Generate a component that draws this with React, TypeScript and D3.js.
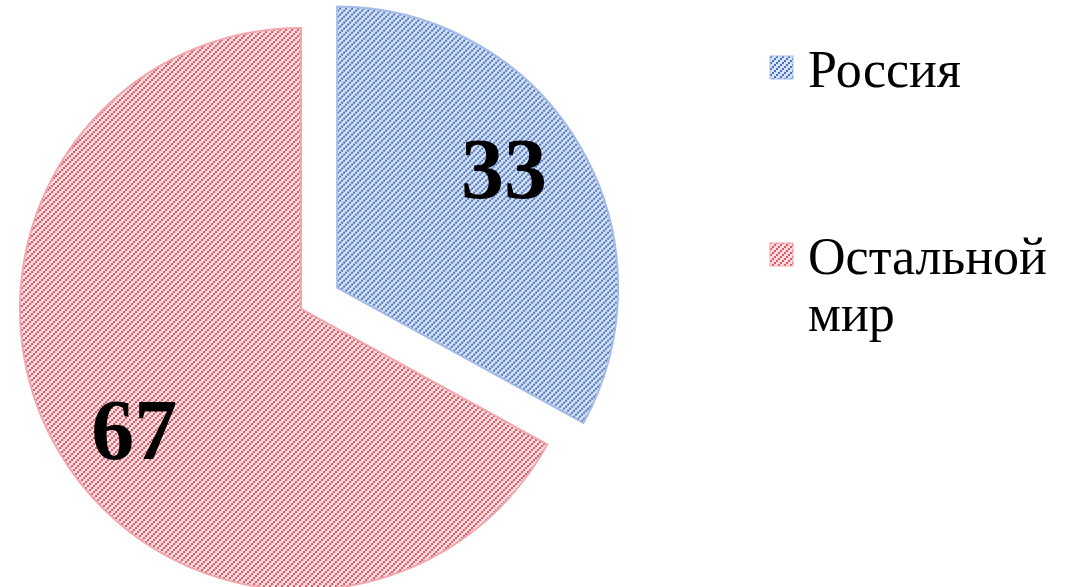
import React from 'react';
import * as d3 from 'd3';

const categories = ['Россия', 'Остальной мир'];
const values = [33, 67];
const legendLines = [['Россия'], ['Остальной', 'мир']];
const stripeColors = ['#4472c4', '#e05864'];
const backColors = ['#dae3f3', '#fcdcdf'];
const edgeColors = ['#a6bce6', '#f2a6ad'];

const W = 1086;
const H = 587;
const serif = "'Liberation Serif', 'Times New Roman', 'DejaVu Serif', serif";

const App = () => {
  const cx = 301;
  const cy = 309;
  const radius = 281;
  const explode = 42;

  const pie = d3.pie<number>().sort(null).startAngle(0).endAngle(2 * Math.PI);
  const arcs = pie(values);
  const arc = d3.arc<d3.PieArcDatum<number>>().innerRadius(0).outerRadius(radius);

  return (
    <div>
      <svg width={W} height={H} style={{ position: 'absolute', left: 0, top: 0 }}>
        <defs>
          {categories.map((c, i) => (
            <pattern key={c} id={`hatch${i}`} patternUnits="userSpaceOnUse" width={6} height={6}>
              <rect width={6} height={6} fill={backColors[i]} />
              <rect x={0} y={4} width={2} height={2} fill={stripeColors[i]} shapeRendering="crispEdges" />
              <rect x={2} y={2} width={2} height={2} fill={stripeColors[i]} shapeRendering="crispEdges" />
              <rect x={4} y={0} width={2} height={2} fill={stripeColors[i]} shapeRendering="crispEdges" />
            </pattern>
          ))}
        </defs>
        {arcs.map((a, i) => {
          const mid = (a.startAngle + a.endAngle) / 2;
          const off = i === 0 ? explode : 0;
          const dx = Math.sin(mid) * off;
          const dy = -Math.cos(mid) * off;
          // data label sits a little before the slice bisector, like Excel's best fit
          const la = mid - (5 * Math.PI) / 180;
          const lr = radius * 0.73;
          const lx = Math.sin(la) * lr;
          const ly = -Math.cos(la) * lr;
          return (
            <g key={categories[i]} transform={`translate(${cx + dx},${cy + dy})`}>
              <path d={arc(a) || ''} fill={`url(#hatch${i})`} stroke={edgeColors[i]} strokeWidth={2} />
              <text
                x={lx}
                y={ly}
                dy="0.35em"
                textAnchor="middle"
                fontFamily={serif}
                fontWeight="bold"
                fontSize={86}
                fill="#000"
              >
                {values[i]}
              </text>
            </g>
          );
        })}
        {legendLines.map((lines, i) => {
          const top = i === 0 ? 56 : 243;
          return (
            <g key={categories[i]}>
              <rect x={770} y={top} width={23} height={23} fill={`url(#hatch${i})`} stroke={edgeColors[i]} strokeWidth={1} />
              {lines.map((t, j) => (
                <text key={t} x={808} y={top + 31 + j * 57} fontFamily={serif} fontSize={52} fill="#000">
                  {t}
                </text>
              ))}
            </g>
          );
        })}
      </svg>
    </div>
  );
};

export default App;
